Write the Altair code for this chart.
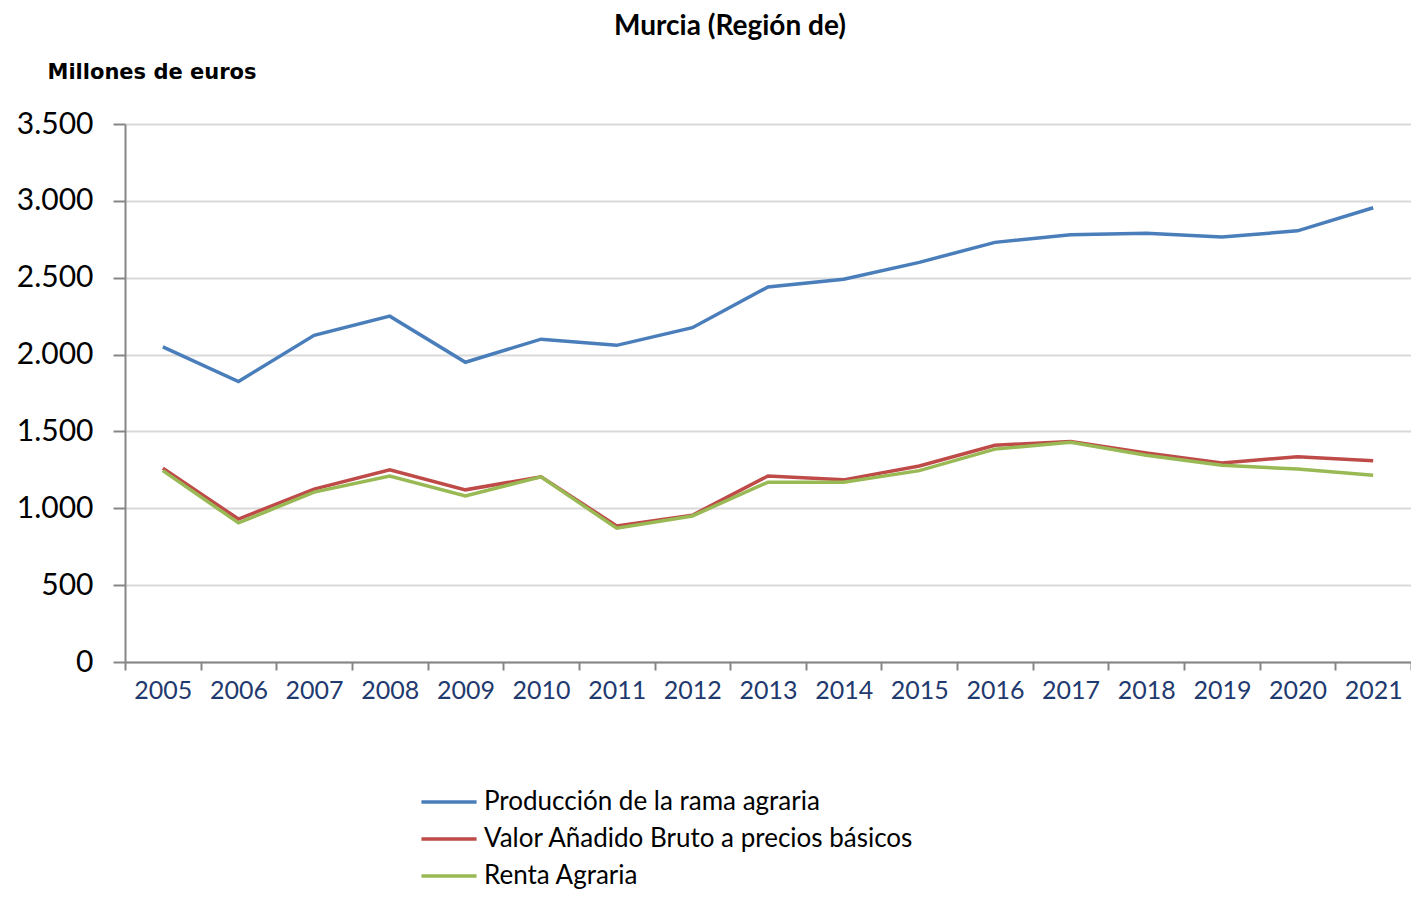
import altair as alt
import pandas as pd

years = [str(y) for y in range(2005, 2022)]
series_names = [
    "Producción de la rama agraria",
    "Valor Añadido Bruto a precios básicos",
    "Renta Agraria",
]
produccion = [2050, 1825, 2125, 2250, 1950, 2100, 2060, 2175, 2440, 2490,
              2600, 2730, 2780, 2790, 2765, 2805, 2955]
vab = [1260, 930, 1125, 1250, 1120, 1205, 885, 955, 1210, 1185,
       1275, 1410, 1435, 1360, 1295, 1335, 1310]
renta = [1245, 905, 1105, 1210, 1080, 1205, 870, 950, 1170, 1170,
         1245, 1385, 1430, 1345, 1280, 1255, 1215]
colors = ["#4a7ebb", "#be4b48", "#98b954"]

rows = []
for i, (name, vals) in enumerate(zip(series_names, [produccion, vab, renta])):
    for y, v in zip(years, vals):
        rows.append({"Año": y, "Serie": name, "Valor": v, "orden": i})
df = pd.DataFrame(rows)

FONT = "Lato"

chart = alt.Chart(df).mark_line(strokeWidth=3.5).encode(
    x=alt.X("Año:O", bandPosition=0.5,
            scale=alt.Scale(type="band", paddingInner=0, paddingOuter=0),
            axis=alt.Axis(title=None, labelAngle=0, tickBand="extent",
                          labelFontSize=25, labelColor="#1f3a6e", labelFont=FONT,
                          labelPadding=8, tickSize=8, tickColor="#868686",
                          tickWidth=2, domainColor="#868686", domainWidth=2,
                          grid=False)),
    y=alt.Y("Valor:Q",
            scale=alt.Scale(domain=[0, 3500], nice=False),
            axis=alt.Axis(values=list(range(0, 3501, 500)),
                          labelExpr="replace(format(datum.value, ','), ',', '.')",
                          labelFontSize=30, labelColor="#000000", labelFont=FONT,
                          labelPadding=20, tickSize=12, tickColor="#868686",
                          tickWidth=2, domainColor="#868686", domainWidth=2,
                          gridColor="#d9d9d9", gridWidth=2,
                          title="Millones de euros", titleAngle=0,
                          titleAlign="left", titleBaseline="alphabetic",
                          titleX=-78, titleY=-46, titleFontSize=21,
                          titleFont="DejaVu Sans", titleFontWeight="bold",
                          titleColor="#000000")),
    color=alt.Color("Serie:N",
                    scale=alt.Scale(domain=series_names, range=colors),
                    legend=alt.Legend(title=None, orient="none",
                                      legendX=303, legendY=657,
                                      labelFontSize=26, labelFont=FONT,
                                      labelColor="#000000", labelOffset=14,
                                      labelLimit=0,
                                      symbolType="M-1.45,0H1.45",
                                      symbolStrokeWidth=3.5,
                                      symbolSize=1444, rowPadding=3)),
    order=alt.Order("orden:Q"),
).properties(
    width=1286,
    height=538,
    title=alt.Title("Murcia (Región de)", fontSize=28, font=FONT,
                    fontWeight="bold", color="#000000", anchor="middle",
                    frame="group", offset=20, dx=-38),
    autosize=alt.AutoSizeParams(type="none"),
    padding={"left": 117, "top": 116, "right": 0, "bottom": 227},
).configure_view(stroke=None)

chart.save("out.html", embed_options={"renderer": "svg", "actions": False})
